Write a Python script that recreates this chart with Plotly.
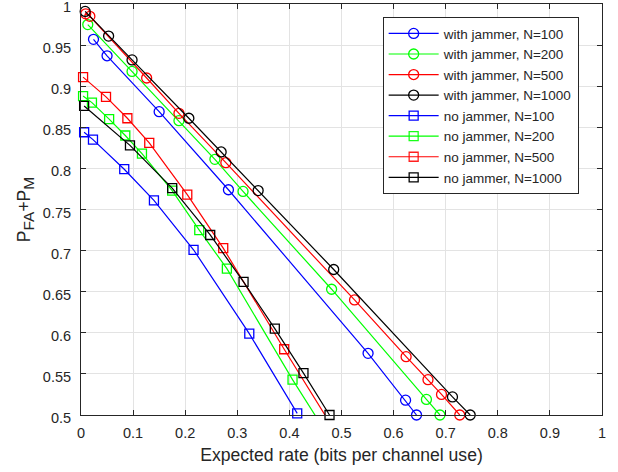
import plotly.graph_objects as go

# ---- data ----
wj100_x = [0.024, 0.050, 0.150, 0.283, 0.551, 0.623, 0.644]
wj100_y = [0.957, 0.937, 0.869, 0.774, 0.575, 0.518, 0.500]

wj200_x = [0.013, 0.098, 0.188, 0.257, 0.311, 0.481, 0.663, 0.689]
wj200_y = [0.975, 0.918, 0.858, 0.811, 0.772, 0.653, 0.519, 0.500]

wj500_x = [0.009, 0.017, 0.126, 0.188, 0.278, 0.525, 0.624, 0.666, 0.692, 0.727]
wj500_y = [0.988, 0.985, 0.910, 0.867, 0.807, 0.640, 0.571, 0.543, 0.525, 0.500]

wj1000_x = [0.008, 0.053, 0.098, 0.207, 0.269, 0.340, 0.485, 0.713, 0.747]
wj1000_y = [0.991, 0.961, 0.932, 0.861, 0.820, 0.773, 0.677, 0.522, 0.500]

nj100_x = [0.006, 0.023, 0.083, 0.140, 0.216, 0.323, 0.415]
nj100_y = [0.844, 0.835, 0.799, 0.761, 0.701, 0.599, 0.502]

nj200_x = [0.004, 0.021, 0.054, 0.085, 0.117, 0.175, 0.227, 0.280, 0.406, 0.468]
nj200_y = [0.888, 0.880, 0.860, 0.840, 0.818, 0.773, 0.725, 0.678, 0.543, 0.481]

nj500_x = [0.004, 0.048, 0.089, 0.131, 0.204, 0.273, 0.390, 0.480]
nj500_y = [0.911, 0.887, 0.861, 0.831, 0.768, 0.703, 0.580, 0.488]

nj1000_x = [0.006, 0.094, 0.175, 0.248, 0.312, 0.372, 0.427, 0.477]
nj1000_y = [0.876, 0.828, 0.776, 0.719, 0.662, 0.605, 0.551, 0.500]

names = ["with jammer, N=100", "with jammer, N=200", "with jammer, N=500",
         "with jammer, N=1000", "no jammer, N=100", "no jammer, N=200",
         "no jammer, N=500", "no jammer, N=1000"]
xs = [wj100_x, wj200_x, wj500_x, wj1000_x, nj100_x, nj200_x, nj500_x, nj1000_x]
ys = [wj100_y, wj200_y, wj500_y, wj1000_y, nj100_y, nj200_y, nj500_y, nj1000_y]
colors = ["#0000ff", "#00ff00", "#ff0000", "#000000"] * 2
symbols = ["circle-open"] * 4 + ["square-open"] * 4

x_ticks = [0, 0.1, 0.2, 0.3, 0.4, 0.5, 0.6, 0.7, 0.8, 0.9, 1]
y_ticks = [0.5, 0.55, 0.6, 0.65, 0.7, 0.75, 0.8, 0.85, 0.9, 0.95, 1]

FONT = "Liberation Sans, Arial, Helvetica, sans-serif"
INK = "#262626"

fig = go.Figure()
for name, x, y, c, s in zip(names, xs, ys, colors, symbols):
    op = [1 if v >= 0.5 else 0 for v in y]
    fig.add_trace(go.Scatter(
        x=x, y=y, name=name, mode="lines+markers",
        line=dict(color=c, width=1.2),
        marker=dict(symbol=s, size=10 if s == "circle-open" else 9,
                    color=c, opacity=op, line=dict(color=c, width=1.3)),
        cliponaxis=False,
    ))

axis_common = dict(
    showgrid=True, gridcolor="#e3e3e3", gridwidth=1,
    showline=True, linecolor=INK, linewidth=1, mirror="ticks",
    ticks="inside", ticklen=5, tickcolor=INK, tickwidth=1,
    tickfont=dict(family=FONT, size=14.5, color=INK),
    zeroline=False, automargin=False, ticklabeloverflow="allow",
)

fig.update_layout(
    width=618, height=472,
    margin=dict(l=81, r=16, t=3.5, b=57),
    paper_bgcolor="white", plot_bgcolor="white",
    font=dict(family=FONT, color=INK),
    xaxis=dict(range=[0, 1], tickvals=x_ticks,
               ticktext=[f"{v:g}" for v in x_ticks],
               title=dict(text="Expected rate (bits per channel use)",
                          font=dict(family=FONT, size=17.6, color=INK), standoff=8),
               ticklabelstandoff=5,
               **axis_common),
    yaxis=dict(range=[0.5, 1], tickvals=y_ticks,
               ticktext=[f"{v:g}" for v in y_ticks],
               title=dict(text="P<sub><span style='font-size:15.5px'>FA</span></sub>+P<sub><span style='font-size:15.5px'>M</span></sub>\u00a0\u00a0",
                          font=dict(family=FONT, size=17.5, color=INK), standoff=7),
               ticklabelstandoff=6, ticklabelshift=3,
               **axis_common),
    showlegend=True,
    legend=dict(x=0.579, y=0.968, xanchor="left", yanchor="top",
                bgcolor="white", bordercolor=INK, borderwidth=1,
                font=dict(family=FONT, size=13.5, color=INK),
                tracegroupgap=0, itemwidth=50),
)

fig.write_html("out.html",
               config={"displayModeBar": False},
               post_script="document.body.style.margin='0';document.body.style.padding='0';")
